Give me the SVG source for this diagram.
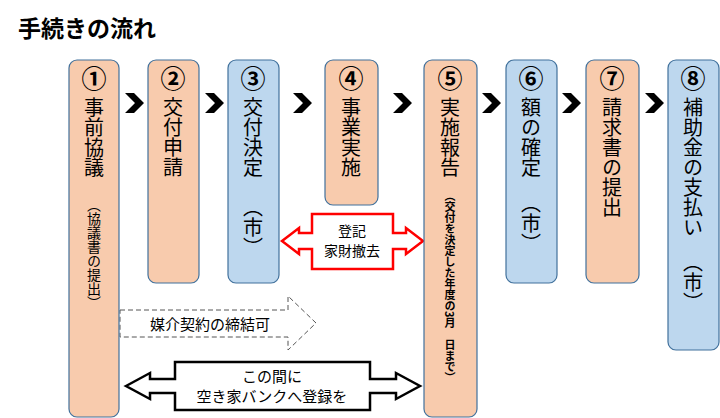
<svg xmlns="http://www.w3.org/2000/svg" width="720" height="418" viewBox="0 0 720 418">
<style>
.o{fill:#f8cbad;stroke:#41719c;stroke-width:1.2}
.b{fill:#bdd7ee;stroke:#41719c;stroke-width:1.2}
text{font-family:"Noto Sans CJK JP","Noto Sans CJK SC",sans-serif;fill:#000}
.n{font-size:25px;font-weight:bold;text-anchor:middle}
.v{font-size:20px;writing-mode:vertical-rl;text-orientation:upright}
.s{font-size:14px;writing-mode:vertical-rl}
.s2{font-size:11px;font-weight:bold;writing-mode:vertical-rl}
.c{fill:#000}
.l{font-size:15px;text-anchor:middle}
</style>
<rect width="720" height="418" fill="#fff"/>
<text x="18" y="37" font-size="23" font-weight="bold">手続きの流れ</text>
<g id="connectors">
<path class="c" d="M125,93h9l10,10l-10,10h-9l10-10z"/>
<path class="c" d="M205,93h9l10,10l-10,10h-9l10-10z"/>
<path class="c" d="M293,93h9l10,10l-10,10h-9l10-10z"/>
<path class="c" d="M393,93h9l10,10l-10,10h-9l10-10z"/>
<path class="c" d="M482,93h9l10,10l-10,10h-9l10-10z"/>
<path class="c" d="M562,93h9l10,10l-10,10h-9l10-10z"/>
<path class="c" d="M645,93h9l10,10l-10,10h-9l10-10z"/>
<g id="red">
<path d="M282,241L299,228V233H312V214H393V233H406V228L423,241L406,254V249H393V269H312V249H299V254Z" fill="#fff" stroke="#ff0000" stroke-width="2.5"/>
<text x="352" y="236" class="l" style="font-size:14px">登記</text>
<text x="352" y="256" class="l" style="font-size:14px">家財撤去</text>
</g>
<g id="dashed">
<path d="M120,310H288V296L316,323L288,350V337H120Z" fill="#fff" stroke="#555" stroke-width="1" stroke-dasharray="5,3"/>
<text x="210" y="330" class="l">媒介契約の締結可</text>
</g>
<g id="black">
<path d="M126,386L150,373V379H175V362H370V379H396V373L420,386L396,399V393H370V410H175V393H150V399Z" fill="#fff" stroke="#000" stroke-width="2.5"/>
<text x="272" y="382" class="l">この間に</text>
<text x="272" y="402" class="l">空き家バンクへ登録を</text>
</g>
</g>
<g id="n1"><rect class="o" x="69" y="60" width="50" height="357" rx="8"/><text class="n" x="94" y="88">①</text><text class="v" x="94" y="97">事前協議</text><text class="s" x="94" y="198">（協議書の提出）</text></g>
<g id="n2"><rect class="o" x="148" y="60" width="51" height="223" rx="8"/><text class="n" x="173" y="88">②</text><text class="v" x="173" y="97">交付申請</text></g>
<g id="n3"><rect class="b" x="228" y="60" width="51" height="223" rx="8"/><text class="n" x="253" y="88">③</text><text class="v" x="253" y="97">交付決定</text><text class="v" x="253" y="197">（市）</text></g>
<g id="n4"><rect class="o" x="325" y="60" width="53" height="145" rx="8"/><text class="n" x="351" y="88">④</text><text class="v" x="351" y="97">事業実施</text></g>
<g id="n5"><rect class="o" x="424" y="60" width="53" height="357" rx="8"/><text class="n" x="450" y="88">⑤</text><text class="v" x="450" y="97">実施報告</text><text class="s2" x="450" y="190">（交付を決定した年度の3月　日まで）</text></g>
<g id="n6"><rect class="b" x="506" y="60" width="51" height="223" rx="8"/><text class="n" x="531" y="88">⑥</text><text class="v" x="531" y="97">額の確定</text><text class="v" x="531" y="193">（市）</text></g>
<g id="n7"><rect class="o" x="586" y="60" width="53" height="223" rx="8"/><text class="n" x="612" y="88">⑦</text><text class="v" x="612" y="97">請求書の提出</text></g>
<g id="n8"><rect class="b" x="668" y="60" width="51" height="290" rx="8"/><text class="n" x="693" y="88">⑧</text><text class="v" x="693" y="97">補助金の支払い</text><text class="v" x="693" y="252">（市）</text></g>
</svg>
